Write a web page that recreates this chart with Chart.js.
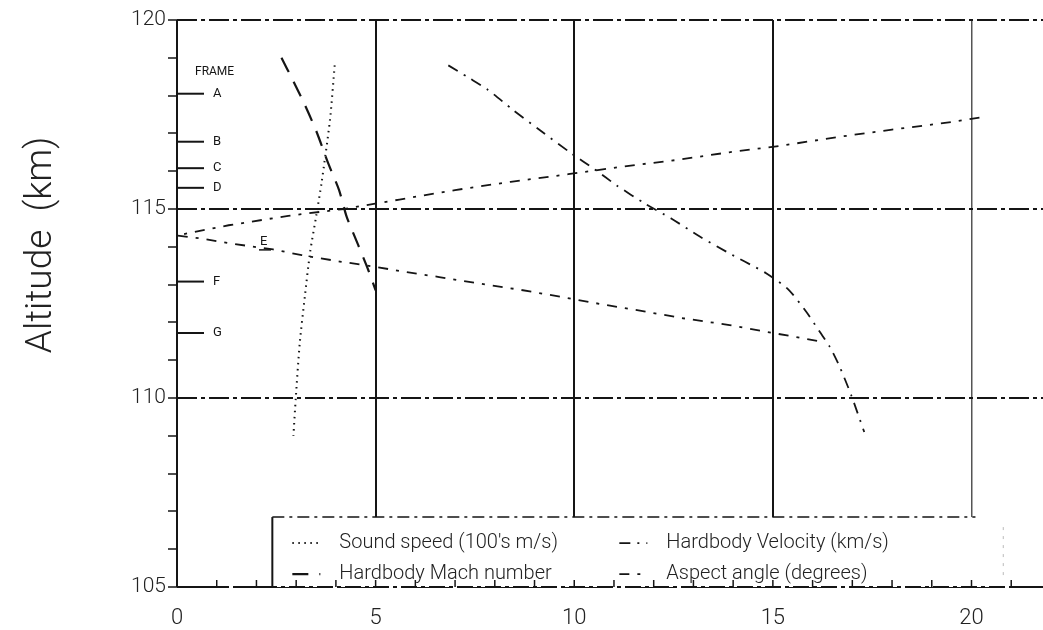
<!DOCTYPE html>
<html>
<head>
<meta charset="utf-8">
<script src="https://cdn.jsdelivr.net/npm/chart.js@4.4.1/dist/chart.umd.min.js"></script>
<style>
  html, body { margin: 0; padding: 0; background: #fff; }
</style>
</head>
<body>
<canvas id="chart" width="1043" height="630"></canvas>
<script>
// x axis ticks (labelled every 5)
var xTicks = [0, 5, 10, 15, 20];

// Sound speed (100's m/s)
var soundX   = [3.97, 3.85, 3.64, 3.51, 3.35, 3.22, 3.09, 2.99, 2.93];
var soundAlt = [118.8, 117.35, 115.7, 114.85, 113.85, 112.7, 111.45, 110.0, 109.0];

// Hardbody Mach number
var machX   = [2.63, 2.92, 3.22, 3.51, 3.81, 4.08, 4.27, 4.56, 4.81, 5.0];
var machAlt = [119.0, 118.4, 117.75, 117.05, 116.2, 115.5, 114.8, 114.05, 113.4, 112.85];

// Hardbody Velocity (km/s)
var velX   = [6.83, 7.33, 7.83, 8.46, 9.13, 9.93, 10.5, 11.06, 11.77, 12.44, 13.16, 13.83, 14.29, 14.83, 15.38, 15.84, 16.18, 16.43, 16.68, 16.97, 17.3];
var velAlt = [118.8, 118.48, 118.15, 117.62, 117.09, 116.47, 116.06, 115.63, 115.15, 114.75, 114.27, 113.87, 113.61, 113.3, 112.88, 112.28, 111.75, 111.36, 110.83, 110.08, 109.1];

// Aspect angle (degrees), upper branch then lower branch
var aspectX   = [20.2, 19.5, 18.0, 16.6, 15.25, 13.9, 12.6, 11.2, 9.85, 8.4, 7.0, 5.6, 4.2, 2.8, 1.3, 0,
                 0.6, 1.4, 2.42, 3.14, 4.1, 5.0, 5.6, 6.6, 7.6, 8.6, 9.7, 10.64, 11.82, 12.74, 13.91, 14.83, 15.55, 16.22];
var aspectAlt = [117.42, 117.3, 117.1, 116.9, 116.68, 116.5, 116.3, 116.12, 115.92, 115.72, 115.5, 115.25, 115.0, 114.82, 114.57, 114.3,
                 114.22, 114.08, 113.93, 113.78, 113.61, 113.47, 113.36, 113.2, 113.03, 112.87, 112.67, 112.49, 112.28, 112.11, 111.93, 111.75, 111.62, 111.49];

// film frames
var frameLabels = ['A', 'B', 'C', 'D', 'F', 'G'];
var frameAlt = [118.05, 116.78, 116.08, 115.56, 113.08, 111.72];

function pts(xs, ys) {
  return xs.map(function (v, i) { return { x: v, y: ys[i] }; });
}

var ink = '#151515';
var thin = 'Roboto, "DejaVu Sans", sans-serif';

// legend box, frame marks, minor ticks, axis title
var extras = {
  id: 'extras',
  afterDatasetsDraw: function (chart) {
    var ctx = chart.ctx, a = chart.chartArea;
    var xs = chart.scales.x, ys = chart.scales.y;
    ctx.save();

    // frame marks
    ctx.strokeStyle = ink; ctx.fillStyle = ink; ctx.lineWidth = 2;
    ctx.font = '12px ' + thin;
    ctx.textBaseline = 'middle';
    ctx.fillText('FRAME', a.left + 18, ys.getPixelForValue(118.62));
    ctx.font = '13px ' + thin;
    for (var i = 0; i < frameLabels.length; i++) {
      var py = ys.getPixelForValue(frameAlt[i]);
      ctx.beginPath(); ctx.moveTo(a.left, py); ctx.lineTo(a.left + 27, py); ctx.stroke();
      ctx.fillText(frameLabels[i], a.left + 36, py);
    }
    // frame E sits on the curves
    var ex = xs.getPixelForValue(2.09), ey = ys.getPixelForValue(114.13);
    ctx.fillText('E', ex, ey);
    ctx.lineWidth = 1.5;
    ctx.beginPath(); ctx.moveTo(ex - 1, ey + 8); ctx.lineTo(ex + 11, ey + 8); ctx.stroke();

    // legend box
    var L = xs.getPixelForValue(2.4), R = xs.getPixelForValue(20.8);
    var T = ys.getPixelForValue(106.85), B = a.bottom;
    ctx.fillStyle = '#fff';
    ctx.fillRect(L, T, R - L, B - T);
    ctx.strokeStyle = ink;
    ctx.lineWidth = 2;
    ctx.beginPath(); ctx.moveTo(L, B); ctx.lineTo(L, T); ctx.stroke();
    ctx.lineWidth = 1.5;
    ctx.setLineDash([12, 5, 3, 5]);
    ctx.beginPath(); ctx.moveTo(L, T); ctx.lineTo(xs.getPixelForValue(20.1), T); ctx.stroke();
    ctx.strokeStyle = '#bbb';
    ctx.lineWidth = 1;
    ctx.setLineDash([3, 6]);
    ctx.beginPath(); ctx.moveTo(R, T + 10); ctx.lineTo(R, B - 10); ctx.stroke();

    var slots = [[20, 26], [20, 57], [347, 26], [347, 57]];
    ctx.font = '300 20px ' + thin;
    ctx.textBaseline = 'middle';
    chart.data.datasets.forEach(function (ds, k) {
      var sx = L + slots[k][0], sy = T + slots[k][1];
      ctx.strokeStyle = ink;
      ctx.lineWidth = ds.borderWidth;
      ctx.setLineDash(ds.borderDash);
      ctx.beginPath(); ctx.moveTo(sx, sy); ctx.lineTo(sx + 28, sy); ctx.stroke();
      ctx.setLineDash([]);
      ctx.fillStyle = '#222';
      ctx.fillText(ds.label, sx + 47, sy);
    });

    // minor ticks on the bottom axis, pointing up
    ctx.strokeStyle = ink; ctx.lineWidth = 1.5; ctx.setLineDash([]);
    for (var t = 1; t <= 21; t++) {
      var px = xs.getPixelForValue(t);
      ctx.beginPath(); ctx.moveTo(px, a.bottom); ctx.lineTo(px, a.bottom - 7); ctx.stroke();
    }
    ctx.lineWidth = 2;
    ctx.setLineDash([16, 4, 4, 4]);
    ctx.beginPath(); ctx.moveTo(a.left, a.bottom); ctx.lineTo(a.right, a.bottom); ctx.stroke();
    ctx.restore();
  },
  afterDraw: function (chart) {
    var ctx = chart.ctx;
    ctx.save();
    ctx.translate(42, 245);
    ctx.rotate(-Math.PI / 2);
    ctx.font = '300 37px ' + thin;
    ctx.fillStyle = '#222';
    ctx.textAlign = 'center';
    ctx.textBaseline = 'middle';
    ctx.fillText('Altitude  (km)', 0, 0);
    ctx.restore();
  }
};

new Chart(document.getElementById('chart'), {
  type: 'scatter',
  data: {
    datasets: [
      { label: "Sound speed (100's m/s)", data: pts(soundX, soundAlt),
        borderDash: [1.5, 4.5], borderWidth: 2, tension: 0.25 },
      { label: 'Hardbody Mach number', data: pts(machX, machAlt),
        borderDash: [16, 11], borderWidth: 2.2, tension: 0.25 },
      { label: 'Hardbody Velocity (km/s)', data: pts(velX, velAlt),
        borderDash: [11, 7, 2, 7], borderWidth: 1.8, tension: 0.25 },
      { label: 'Aspect angle (degrees)', data: pts(aspectX, aspectAlt),
        borderDash: [10, 8, 3, 8], borderWidth: 1.8, tension: 0 }
    ].map(function (d) {
      d.showLine = true;
      d.pointRadius = 0;
      d.borderColor = ink;
      d.backgroundColor = ink;
      return d;
    })
  },
  options: {
    responsive: false,
    animation: false,
    layout: { padding: { left: 0, top: 20, right: 0, bottom: 0 } },
    plugins: { legend: { display: false }, tooltip: { enabled: false } },
    scales: {
      x: {
        type: 'linear', min: 0, max: 21.8,
        afterBuildTicks: function (s) { s.ticks = xTicks.map(function (v) { return { value: v }; }); },
        afterFit: function (s) { s.height = 43; },
        grid: {
          color: function (c) { return c.tick && c.tick.value === 20 ? '#555' : ink; },
          lineWidth: function (c) { return c.tick && c.tick.value === 20 ? 1.5 : 2; },
          drawTicks: false
        },
        border: { display: false },
        ticks: { padding: 18, color: '#222', font: { family: thin, size: 22, weight: 300 } }
      },
      y: {
        min: 105, max: 120,
        ticks: {
          stepSize: 1, padding: 2, color: '#222',
          font: { family: thin, size: 21, weight: 300 },
          callback: function (v) { return v % 5 === 0 ? v : ''; }
        },
        afterFit: function (s) { s.width = 177; },
        grid: {
          color: function (c) { return c.tick && c.tick.value % 5 === 0 ? ink : 'rgba(0,0,0,0)'; },
          lineWidth: 2, tickColor: ink, tickLength: 9, tickWidth: 1.5
        },
        border: { display: false, dash: [20, 4, 4, 4] }
      }
    }
  },
  plugins: [extras]
});
</script>
</body>
</html>
